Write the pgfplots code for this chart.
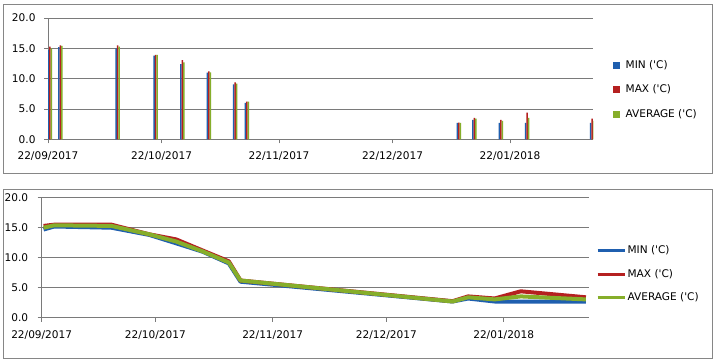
\documentclass[border=0pt]{standalone}
\usepackage{fontspec}
\setmainfont{DejaVu Sans}[Ligatures=TeXOff]
\usepackage{pgfplots}
\usepackage{pgfplotstable}
\pgfplotsset{compat=1.18}
\definecolor{cmin}{HTML}{1F5FAF}
\definecolor{cmax}{HTML}{B52020}
\definecolor{cavg}{HTML}{86AE2A}
\definecolor{gridc}{HTML}{7A7A7A}
\definecolor{framec}{HTML}{868686}

% day = days after 22/09/2017
\pgfplotstableread{
day   min   max   avg
0.5   14.7  15.3  15.0
3.3   15.2  15.5  15.4
18.4  15.0  15.5  15.3
28.4  13.8  13.9  13.9
35.5  12.4  13.05 12.7
42.5  11.0  11.2  11.05
49.4  9.05  9.4   9.2
52.5  6.0   6.2   6.2
108.5 2.7   2.75  2.7
112.6 3.2   3.55  3.4
119.6 2.7   3.2   3.05
126.5 2.7   4.4   3.55
143.7 2.7   3.4   3.05
}\data

\newcommand{\lf}{\fontsize{10.6}{12}\selectfont}

\pgfplotsset{myax/.style={
  scale only axis,
  axis x line*=bottom, axis y line*=left,
  axis line style={gridc, line width=0.8bp},
  ymin=0, ymax=20, ytick={0,5,10,15,20},
  ymajorgrids, major grid style={gridc, line width=0.8bp},
  xtick={0,30,61,91,122},
  xticklabels={22/09/2017,22/10/2017,22/11/2017,22/12/2017,22/01/2018},
  tick style={gridc, line width=0.8bp}, tick align=outside, major tick length=4bp,
  ticklabel style={font=\lf, text=black},
  yticklabel style={/pgf/number format/.cd, fixed, fixed zerofill, precision=1, /tikz/.cd},
  /pgf/number format/assume math mode=true,
  legend cell align=left,
  legend style={draw=none, fill=none, inner sep=0pt, font=\lf,
    nodes={inner sep=1.5bp, text height=8bp, text depth=2bp}},
}}

\begin{document}
\begin{tikzpicture}[x=1bp,y=1bp]
\useasboundingbox (0,0) rectangle (716,362);
\fill[white] (0,0) rectangle (716,362);
\draw[framec, line width=1bp] (3.5,189) rectangle (712,357.5);
\draw[framec, line width=1bp] (3.5,3.7) rectangle (712,172.5);

\begin{axis}[myax,
  at={(48bp,222.7bp)}, anchor=south west,
  width=545.3bp, height=121.3bp,
  xmin=0, xmax=144,
  ybar=0pt, bar width=1.5bp,
  xticklabel style={yshift=-5bp},
  yticklabel style={xshift=-5bp},
  legend style={at={(rel axis cs:1.036,0.665)}, anchor=north west, row sep=11.5bp,
    /tikz/every odd column/.append style={column sep=4bp}},
]
\addplot[fill=cmin, draw=none, legend image code/.code={\fill[cmin] (0bp,-3.5bp) rectangle (7bp,3.5bp);}] table[x=day,y=min]{\data};
\addlegendentry{MIN ('C)}
\addplot[fill=cmax, draw=none, legend image code/.code={\fill[cmax] (0bp,-3.5bp) rectangle (7bp,3.5bp);}] table[x=day,y=max]{\data};
\addlegendentry{MAX ('C)}
\addplot[fill=cavg, draw=none, legend image code/.code={\fill[cavg] (0bp,-3.5bp) rectangle (7bp,3.5bp);}] table[x=day,y=avg]{\data};
\addlegendentry{AVERAGE ('C)}
\end{axis}

\begin{axis}[myax,
  at={(41.7bp,44.3bp)}, anchor=south west,
  width=547.6bp, height=120bp,
  xmin=0, xmax=144.6,
  xticklabel style={yshift=-5.5bp},
  yticklabel style={xshift=-6bp},
  legend style={at={(rel axis cs:1.012,0.614)}, anchor=north west, row sep=10.5bp},
  legend image code/.code={\draw[#1, line width=3bp] (0bp,0bp) -- (27bp,0bp);},
]
\addplot[cmin, line width=4bp, line join=round] table[x=day,y=min]{\data};
\addlegendentry{MIN ('C)}
\addplot[cmax, line width=4bp, line join=round] table[x=day,y=max]{\data};
\addlegendentry{MAX ('C)}
\addplot[cavg, line width=4bp, line join=round] table[x=day,y=avg]{\data};
\addlegendentry{AVERAGE ('C)}
\end{axis}
\end{tikzpicture}
\end{document}
